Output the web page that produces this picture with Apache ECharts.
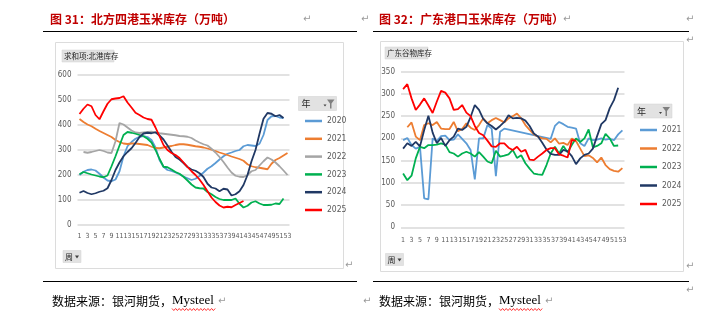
<!DOCTYPE html>
<html><head><meta charset="utf-8">
<script src="https://cdn.jsdelivr.net/npm/echarts@6/dist/echarts.min.js"></script>
<style>html,body{margin:0;padding:0;background:#fff}#c{width:727px;height:324px}</style>
</head><body><div id="c"></div>
<script>
// ---------- data ----------
const weeks = ['1','2','3','4','5','6','7','8','9','10','11','12','13','14','15','16','17','18','19','20','21','22','23','24','25','26','27','28','29','30','31','32','33','34','35','36','37','38','39','40','41','42','43','44','45','46','47','48','49','50','51','52','53'];

// 北方四港玉米库存 (万吨)
const north2020 = [200,213,220,222,218,205,190,178,175,182, 215,275,315,332,345,353,356,352,340,310, 260,233,220,216,210,203,194,187,180,185, 196,210,225,235,248,262,275,285,290,296, 300,315,320,318,316,325,360,420,435,436, 430,428,null];
const north2021 = [424,412,402,395,385,376,368,360,352,340, 332,326,324,326,326,324,322,320,313,308, 307,310,313,316,320,323,323,321,318,315, 313,310,306,301,296,290,285,280,274,269, 264,257,243,235,231,229,226,223,245,260, 268,278,288];
const north2022 = [null,292,289,292,296,300,296,290,288,335, 408,402,390,378,370,368,370,372,373,370, 367,365,363,361,359,356,355,353,348,338, 330,323,318,305,290,272,252,230,210,197, 193,192,200,215,220,238,255,270,262,250, 235,218,200];
const north2023 = [203,212,207,202,198,194,191,198,235,275, 318,360,372,369,365,360,355,345,330,300, 265,233,231,222,212,205,193,178,162,150, 147,146,132,123,112,104,100,100,100,106, 85,70,77,90,95,86,80,80,81,86, 84,106,null];
const north2024 = [129,136,128,123,127,133,137,147,180,220, 250,275,292,307,328,352,366,369,367,371, 358,342,318,293,272,262,248,232,222,217, 207,192,165,150,146,135,145,142,118,123, 135,160,200,255,300,365,425,448,445,435, 440,428,null];
const north2025 = [444,465,482,475,440,423,455,485,503,506, 508,515,490,470,449,440,430,424,421,390, 355,320,300,288,280,268,250,232,215,200, 182,160,135,110,92,78,70,73,71,80, 88,96];

// 广东港口玉米库存 (万吨)
const south2021 = [196,201,185,177,181,65,63,200,194,205, 206,196,197,209,199,189,174,108,200,200, 230,222,115,215,222,null,null,null,null,null, null,null,null,null,null,199,228,237,232,226, 224,222,189,183,200,196,197,200,197,199, 196,209,218];
const south2022 = [null,225,236,204,196,230,234,230,237,222, 221,221,237,216,221,234,224,219,230,245, 234,241,246,241,236,245,250,256,245,230, 219,209,204,200,199,191,200,188,190,185, 200,194,177,160,162,156,146,157,140,131, 127,125,133];
const south2023 = [121,106,116,155,181,178,185,185,186,189, 186,169,166,159,166,170,166,159,169,159, 148,144,172,159,161,164,174,156,162,144, 132,121,119,118,140,166,181,166,183,169, 185,200,192,200,220,180,183,189,210,200, 183,184];
const south2024 = [177,189,183,192,182,219,251,213,189,201, 183,196,204,222,219,226,248,275,264,244, 234,228,220,228,237,252,245,246,245,240, 228,211,204,190,175,165,163,163,174,171, 160,142,155,163,166,177,205,232,241,268, 286,314];
const south2025 = [311,322,290,264,276,290,274,257,283,307, 303,290,264,266,275,258,250,228,212,207, 195,182,181,189,189,179,174,181,170,174, 152,151,159,166,174,178,178,164,161,157, 196,195];

const northTicks = {min:0, max:600, interval:100};
const southTicks = {min:0, max:350, interval:50};
const northNames = ['2020','2021','2022','2023','2024','2025'];
const southNames = ['2021','2022','2023','2024','2025'];

// ---------- styling ----------
const C = {lb:'#5B9BD5', or:'#ED7D31', gr:'#A5A5A5', gn:'#00B050', nv:'#203864', rd:'#FF0000'};
const narrow = '"Liberation Sans Narrow","DejaVu Sans Condensed","Liberation Sans",Arial,sans-serif';
const cjk = '"Noto Sans CJK SC","Noto Sans",sans-serif';
const lab = '#595959';

function xAx(i, margin){
  return {type:'category', gridIndex:i, data:weeks, boundaryGap:true,
    axisLine:{show:false}, axisTick:{show:false},
    axisLabel:{interval:1, fontSize:7, color:lab, margin:margin, fontFamily:narrow}};
}
function yAx(i, t){
  return {type:'value', gridIndex:i, min:t.min, max:t.max, interval:t.interval,
    axisLine:{show:false}, axisTick:{show:false},
    splitLine:{lineStyle:{color:'#d9d9d9', width:1.5}},
    axisLabel:{fontSize:8, color:lab, margin:6, fontFamily:narrow}};
}
function ser(name, data, color, gi, extra){
  return Object.assign({type:'line', name:name, data:data, xAxisIndex:gi, yAxisIndex:gi,
    symbol:'none', smooth:false, lineStyle:{width:1.8, color:color}, itemStyle:{color:color},
    emphasis:{disabled:true}, z:3}, extra||{});
}

function zig(x1, x2, y){
  const pts=[]; let up=true;
  for(let x=x1; x<=x2; x+=1.8){ pts.push([x, up?y-1:y+1]); up=!up; }
  return {type:'polyline', shape:{points:pts}, style:{stroke:'#ff0000', lineWidth:0.8, fill:null}, z:5};
}
function retMark(x, y){
  return {type:'text', z:5, style:{x:x, y:y, text:'↵', fill:'#9a9a9a', font:'10px "DejaVu Sans"', verticalAlign:'middle'}};
}
function button(x, y, w, h, text, fs){
  return [
    {type:'rect', z:5, shape:{x:x, y:y, width:w, height:h}, style:{fill:'#e2e2e2', stroke:'#d0d0d0', lineWidth:0.5}},
    {type:'text', z:6, style:{x:x+2, y:y+h/2+0.5, text:text, fill:'#262626', font:fs+'px '+cjk, verticalAlign:'middle'}}
  ];
}
function legendHead(x, y){
  return [
    {type:'rect', z:5, shape:{x:x, y:y, width:38, height:14}, style:{fill:'#e2e2e2', stroke:'#d0d0d0', lineWidth:0.5}},
    {type:'text', z:6, style:{x:x+3, y:y+7.5, text:'年', fill:'#262626', font:'9px '+cjk, verticalAlign:'middle'}},
    {type:'polygon', z:6, shape:{points:[[x+25,y+8],[x+28,y+8],[x+26.5,y+10]]}, style:{fill:'#404040'}},
    {type:'polygon', z:6, shape:{points:[[x+28.5,y+3],[x+36,y+3],[x+33,y+7],[x+33,y+12],[x+31.5,y+12],[x+31.5,y+7]]}, style:{fill:'#808080'}}
  ];
}
function weekBtn(x, y){
  return [
    {type:'rect', z:5, shape:{x:x, y:y, width:18, height:12}, style:{fill:'#e2e2e2', stroke:'#d0d0d0', lineWidth:0.5}},
    {type:'text', z:6, style:{x:x+2, y:y+6.5, text:'周', fill:'#262626', font:'8px '+cjk, verticalAlign:'middle'}},
    {type:'polygon', z:6, shape:{points:[[x+12,y+5],[x+16,y+5],[x+14,y+8]]}, style:{fill:'#404040'}}
  ];
}
function source(x, y){
  return {type:'text', z:5, style:{x:x, y:y, verticalAlign:'middle',
    text:'{a|数据来源：银河期货，}{b|Mysteel}',
    rich:{a:{font:'12px '+cjk, fill:'#000'}, b:{font:'13px "Liberation Serif","DejaVu Serif",serif', fill:'#000'}}}};
}

const graphics = [].concat(
  [
    {type:'text', z:5, style:{x:50, y:19, text:'图 31：北方四港玉米库存（万吨）', fill:'#C00000', font:'bold 12px '+cjk, verticalAlign:'middle'}},
    {type:'text', z:5, style:{x:379, y:19, text:'图 32：广东港口玉米库存（万吨）', fill:'#C00000', font:'bold 12px '+cjk, verticalAlign:'middle'}},
    {type:'line', z:5, shape:{x1:43, y1:31.5, x2:357, y2:31.5}, style:{stroke:'#000', lineWidth:1.2}},
    {type:'line', z:5, shape:{x1:373, y1:31.5, x2:689, y2:31.5}, style:{stroke:'#000', lineWidth:1.2}},
    {type:'line', z:5, shape:{x1:43, y1:281.5, x2:357, y2:281.5}, style:{stroke:'#000', lineWidth:1.2}},
    {type:'line', z:5, shape:{x1:373, y1:281.5, x2:689, y2:281.5}, style:{stroke:'#000', lineWidth:1.2}},
    {type:'rect', z:0, shape:{x:55.5, y:42.5, width:288, height:226}, style:{fill:'#fff', stroke:'#dcdcdc', lineWidth:1}},
    {type:'rect', z:0, shape:{x:380.5, y:41.5, width:303, height:230}, style:{fill:'#fff', stroke:'#dcdcdc', lineWidth:1}},
    source(52, 301), source(379, 301),
    zig(172, 216, 309.5), zig(499, 543, 309.5),
    retMark(303, 19), retMark(361, 19), retMark(563, 19), retMark(686, 19), retMark(686, 40),
    retMark(345, 265), retMark(686, 266), retMark(686, 290),
    retMark(218, 301), retMark(363, 301), retMark(545, 301)
  ],
  button(62, 50, 52, 12, '求和项:北港库存', 7.5),
  button(385, 47, 43, 12, '广东谷物库存', 7.5),
  legendHead(298.5, 96.5),
  legendHead(634, 104),
  weekBtn(63, 250.5),
  weekBtn(385.5, 253.5)
);

const option = {
  animation:false,
  backgroundColor:'#fff',
  grid:[
    {left:77.5, top:75, width:212, height:150},
    {left:401, top:71.7, width:223.5, height:155.6}
  ],
  xAxis:[xAx(0, 8), xAx(1, 9)],
  yAxis:[yAx(0, northTicks), yAx(1, southTicks)],
  legend:[
    {data:northNames, orient:'vertical', left:300, top:110, itemWidth:17, itemHeight:2.5, icon:'rect', itemGap:5.8,
     selectedMode:false, textStyle:{fontSize:8.5, color:lab, fontFamily:narrow, lineHeight:12}},
    {data:southNames.map(n=>'G'+n), orient:'vertical', left:635, top:119, itemWidth:17, itemHeight:2.5, icon:'rect', itemGap:6.5,
     selectedMode:false, formatter:n=>n.slice(1), textStyle:{fontSize:8.5, color:lab, fontFamily:narrow, lineHeight:12}}
  ],
  graphic:graphics,
  series:[
    ser('2020', north2020, C.lb, 0),
    ser('2021', north2021, C.or, 0),
    ser('2022', north2022, C.gr, 0),
    ser('2023', north2023, C.gn, 0),
    ser('2024', north2024, C.nv, 0),
    ser('2025', north2025, C.rd, 0),
    ser('G2021', south2021, C.lb, 1, {connectNulls:true}),
    ser('G2022', south2022, C.or, 1),
    ser('G2023', south2023, C.gn, 1),
    ser('G2024', south2024, C.nv, 1),
    ser('G2025', south2025, C.rd, 1)
  ]
};
const chart = echarts.init(document.getElementById('c'), null, {renderer:'canvas'});
chart.setOption(option);
</script></body></html>
